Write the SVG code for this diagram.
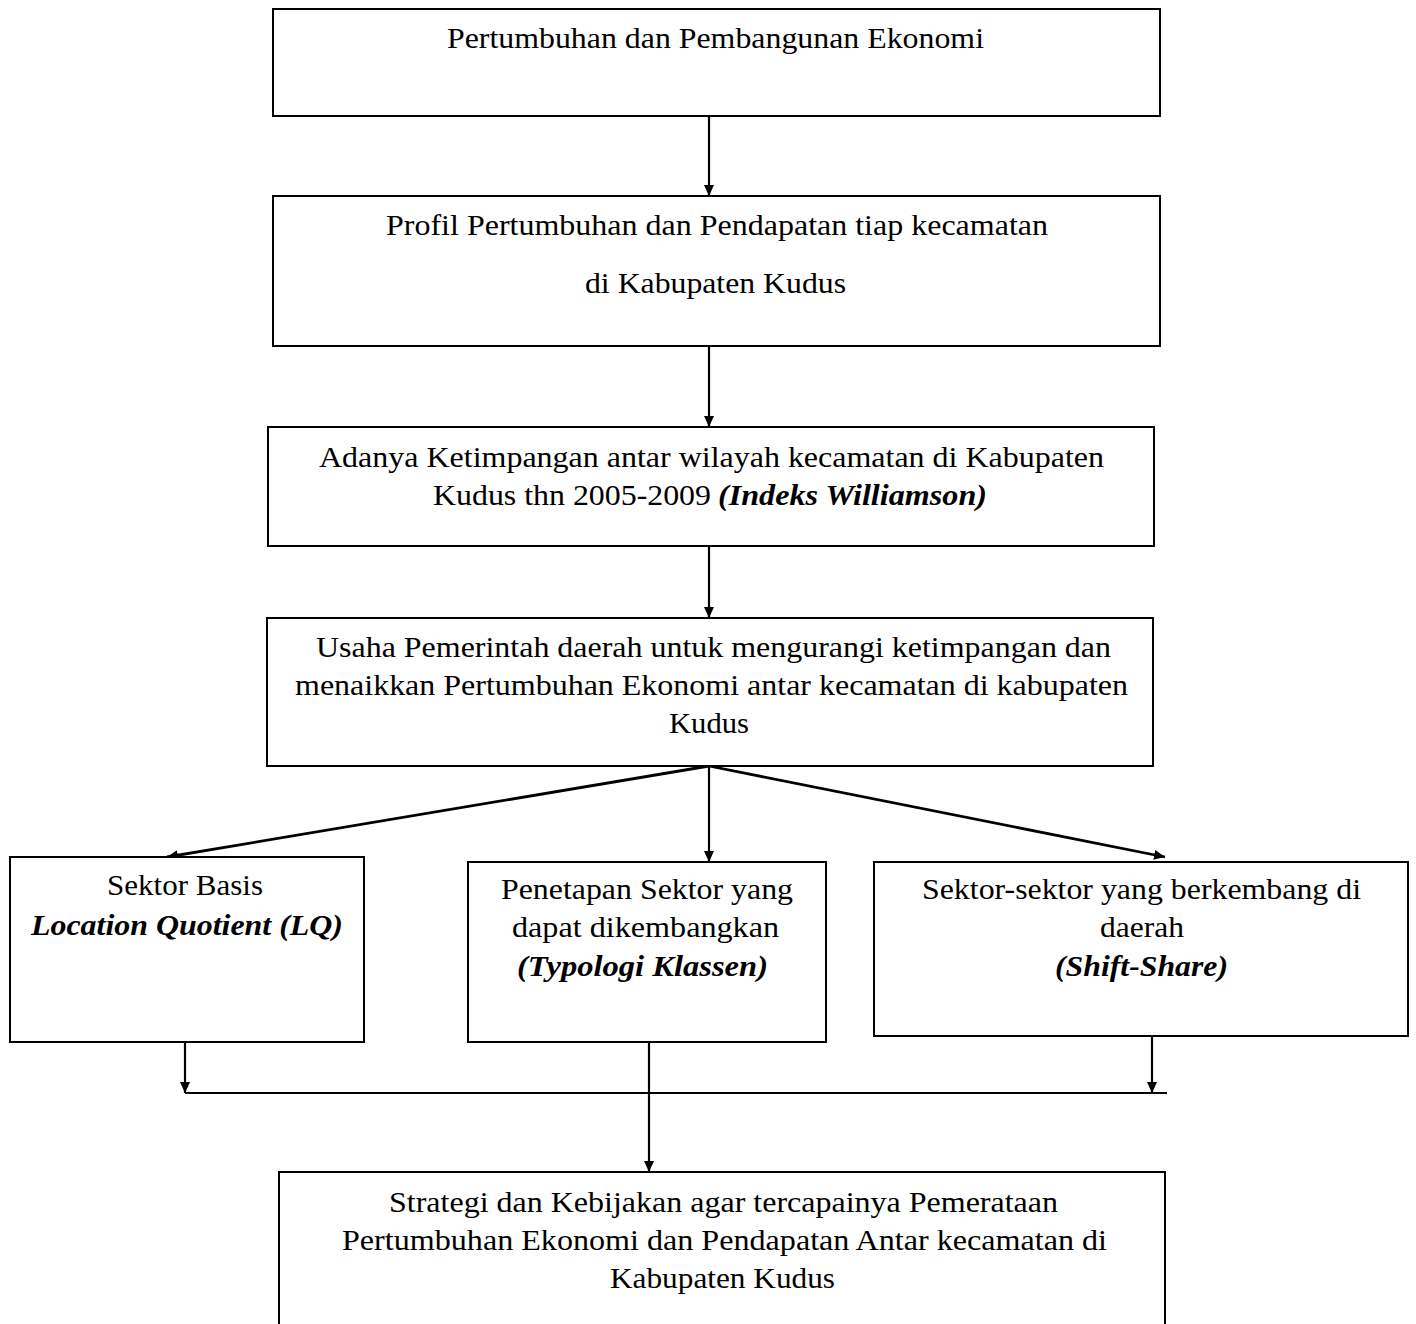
<svg xmlns="http://www.w3.org/2000/svg" width="1416" height="1324" viewBox="0 0 1416 1324">
<style>
.box{fill:#fff;stroke:#000;stroke-width:2}
.lbl{font-family:'Liberation Serif','Times New Roman',serif;font-size:30px;fill:#000}
.bi{font-weight:bold;font-style:italic}
.con{fill:none;stroke:#000;stroke-width:2.2}
.diag{stroke-width:2.8}
</style>
<defs>
<marker id="ah" markerUnits="userSpaceOnUse" markerWidth="11" markerHeight="10" refX="11" refY="5" orient="auto">
<path d="M0,0 L11,5 L0,10 z" fill="#000"/>
</marker>
</defs>
<rect width="1416" height="1324" fill="#fff"/>
<g id="connectors">
<line class="con" x1="709" y1="116" x2="709" y2="196" marker-end="url(#ah)"/>
<line class="con" x1="709" y1="346" x2="709" y2="427" marker-end="url(#ah)"/>
<line class="con" x1="709" y1="546" x2="709" y2="618" marker-end="url(#ah)"/>
<line class="con diag" x1="709" y1="766" x2="167" y2="857" marker-end="url(#ah)"/>
<line class="con" x1="709" y1="766" x2="709" y2="862" marker-end="url(#ah)"/>
<line class="con diag" x1="709" y1="766" x2="1165" y2="857" marker-end="url(#ah)"/>
<line class="con" x1="185" y1="1042" x2="185" y2="1093" marker-end="url(#ah)"/>
<line class="con" x1="1152" y1="1036" x2="1152" y2="1093" marker-end="url(#ah)"/>
<line class="con" x1="185" y1="1093" x2="1167" y2="1093"/>
<line class="con" x1="649" y1="1042" x2="649" y2="1172" marker-end="url(#ah)"/>
</g>
<g id="n1">
<rect class="box" x="273" y="9" width="887" height="107"/>
<text class="lbl" x="447" y="48" textLength="537" lengthAdjust="spacingAndGlyphs">Pertumbuhan dan Pembangunan Ekonomi</text>
</g>
<g id="n2">
<rect class="box" x="273" y="196" width="887" height="150"/>
<text class="lbl" x="386" y="235" textLength="662" lengthAdjust="spacingAndGlyphs">Profil Pertumbuhan dan Pendapatan tiap kecamatan</text>
<text class="lbl" x="585" y="293" textLength="261" lengthAdjust="spacingAndGlyphs">di Kabupaten Kudus</text>
</g>
<g id="n3">
<rect class="box" x="268" y="427" width="886" height="119"/>
<text class="lbl" x="319" y="467" textLength="785" lengthAdjust="spacingAndGlyphs">Adanya Ketimpangan antar wilayah kecamatan di Kabupaten</text>
<text class="lbl" x="433" y="505" textLength="278" lengthAdjust="spacingAndGlyphs">Kudus thn 2005-2009</text>
<text class="lbl bi" x="718" y="505" textLength="269" lengthAdjust="spacingAndGlyphs">(Indeks Williamson)</text>
</g>
<g id="n4">
<rect class="box" x="267" y="618" width="886" height="148"/>
<text class="lbl" x="316" y="657" textLength="795" lengthAdjust="spacingAndGlyphs">Usaha Pemerintah daerah untuk mengurangi ketimpangan dan</text>
<text class="lbl" x="295" y="695" textLength="833" lengthAdjust="spacingAndGlyphs">menaikkan Pertumbuhan Ekonomi antar kecamatan di kabupaten</text>
<text class="lbl" x="669" y="733" textLength="80" lengthAdjust="spacingAndGlyphs">Kudus</text>
</g>
<g id="n5">
<rect class="box" x="10" y="857" width="354" height="185"/>
<text class="lbl" x="107" y="895" textLength="156" lengthAdjust="spacingAndGlyphs">Sektor Basis</text>
<text class="lbl bi" x="31" y="935" textLength="312" lengthAdjust="spacingAndGlyphs">Location Quotient (LQ)</text>
</g>
<g id="n6">
<rect class="box" x="468" y="862" width="358" height="180"/>
<text class="lbl" x="501" y="899" textLength="292" lengthAdjust="spacingAndGlyphs">Penetapan Sektor yang</text>
<text class="lbl" x="512" y="937" textLength="267" lengthAdjust="spacingAndGlyphs">dapat dikembangkan</text>
<text class="lbl bi" x="517" y="976" textLength="251" lengthAdjust="spacingAndGlyphs">(Typologi Klassen)</text>
</g>
<g id="n7">
<rect class="box" x="874" y="862" width="534" height="174"/>
<text class="lbl" x="922" y="899" textLength="439" lengthAdjust="spacingAndGlyphs">Sektor-sektor yang berkembang di</text>
<text class="lbl" x="1100" y="937" textLength="84" lengthAdjust="spacingAndGlyphs">daerah</text>
<text class="lbl bi" x="1055" y="976" textLength="173" lengthAdjust="spacingAndGlyphs">(Shift-Share)</text>
</g>
<g id="n8">
<rect class="box" x="279" y="1172" width="886" height="170"/>
<text class="lbl" x="389" y="1212" textLength="669" lengthAdjust="spacingAndGlyphs">Strategi dan Kebijakan agar tercapainya Pemerataan</text>
<text class="lbl" x="342" y="1250" textLength="765" lengthAdjust="spacingAndGlyphs">Pertumbuhan Ekonomi dan Pendapatan Antar kecamatan di</text>
<text class="lbl" x="610" y="1288" textLength="225" lengthAdjust="spacingAndGlyphs">Kabupaten Kudus</text>
</g>
</svg>
